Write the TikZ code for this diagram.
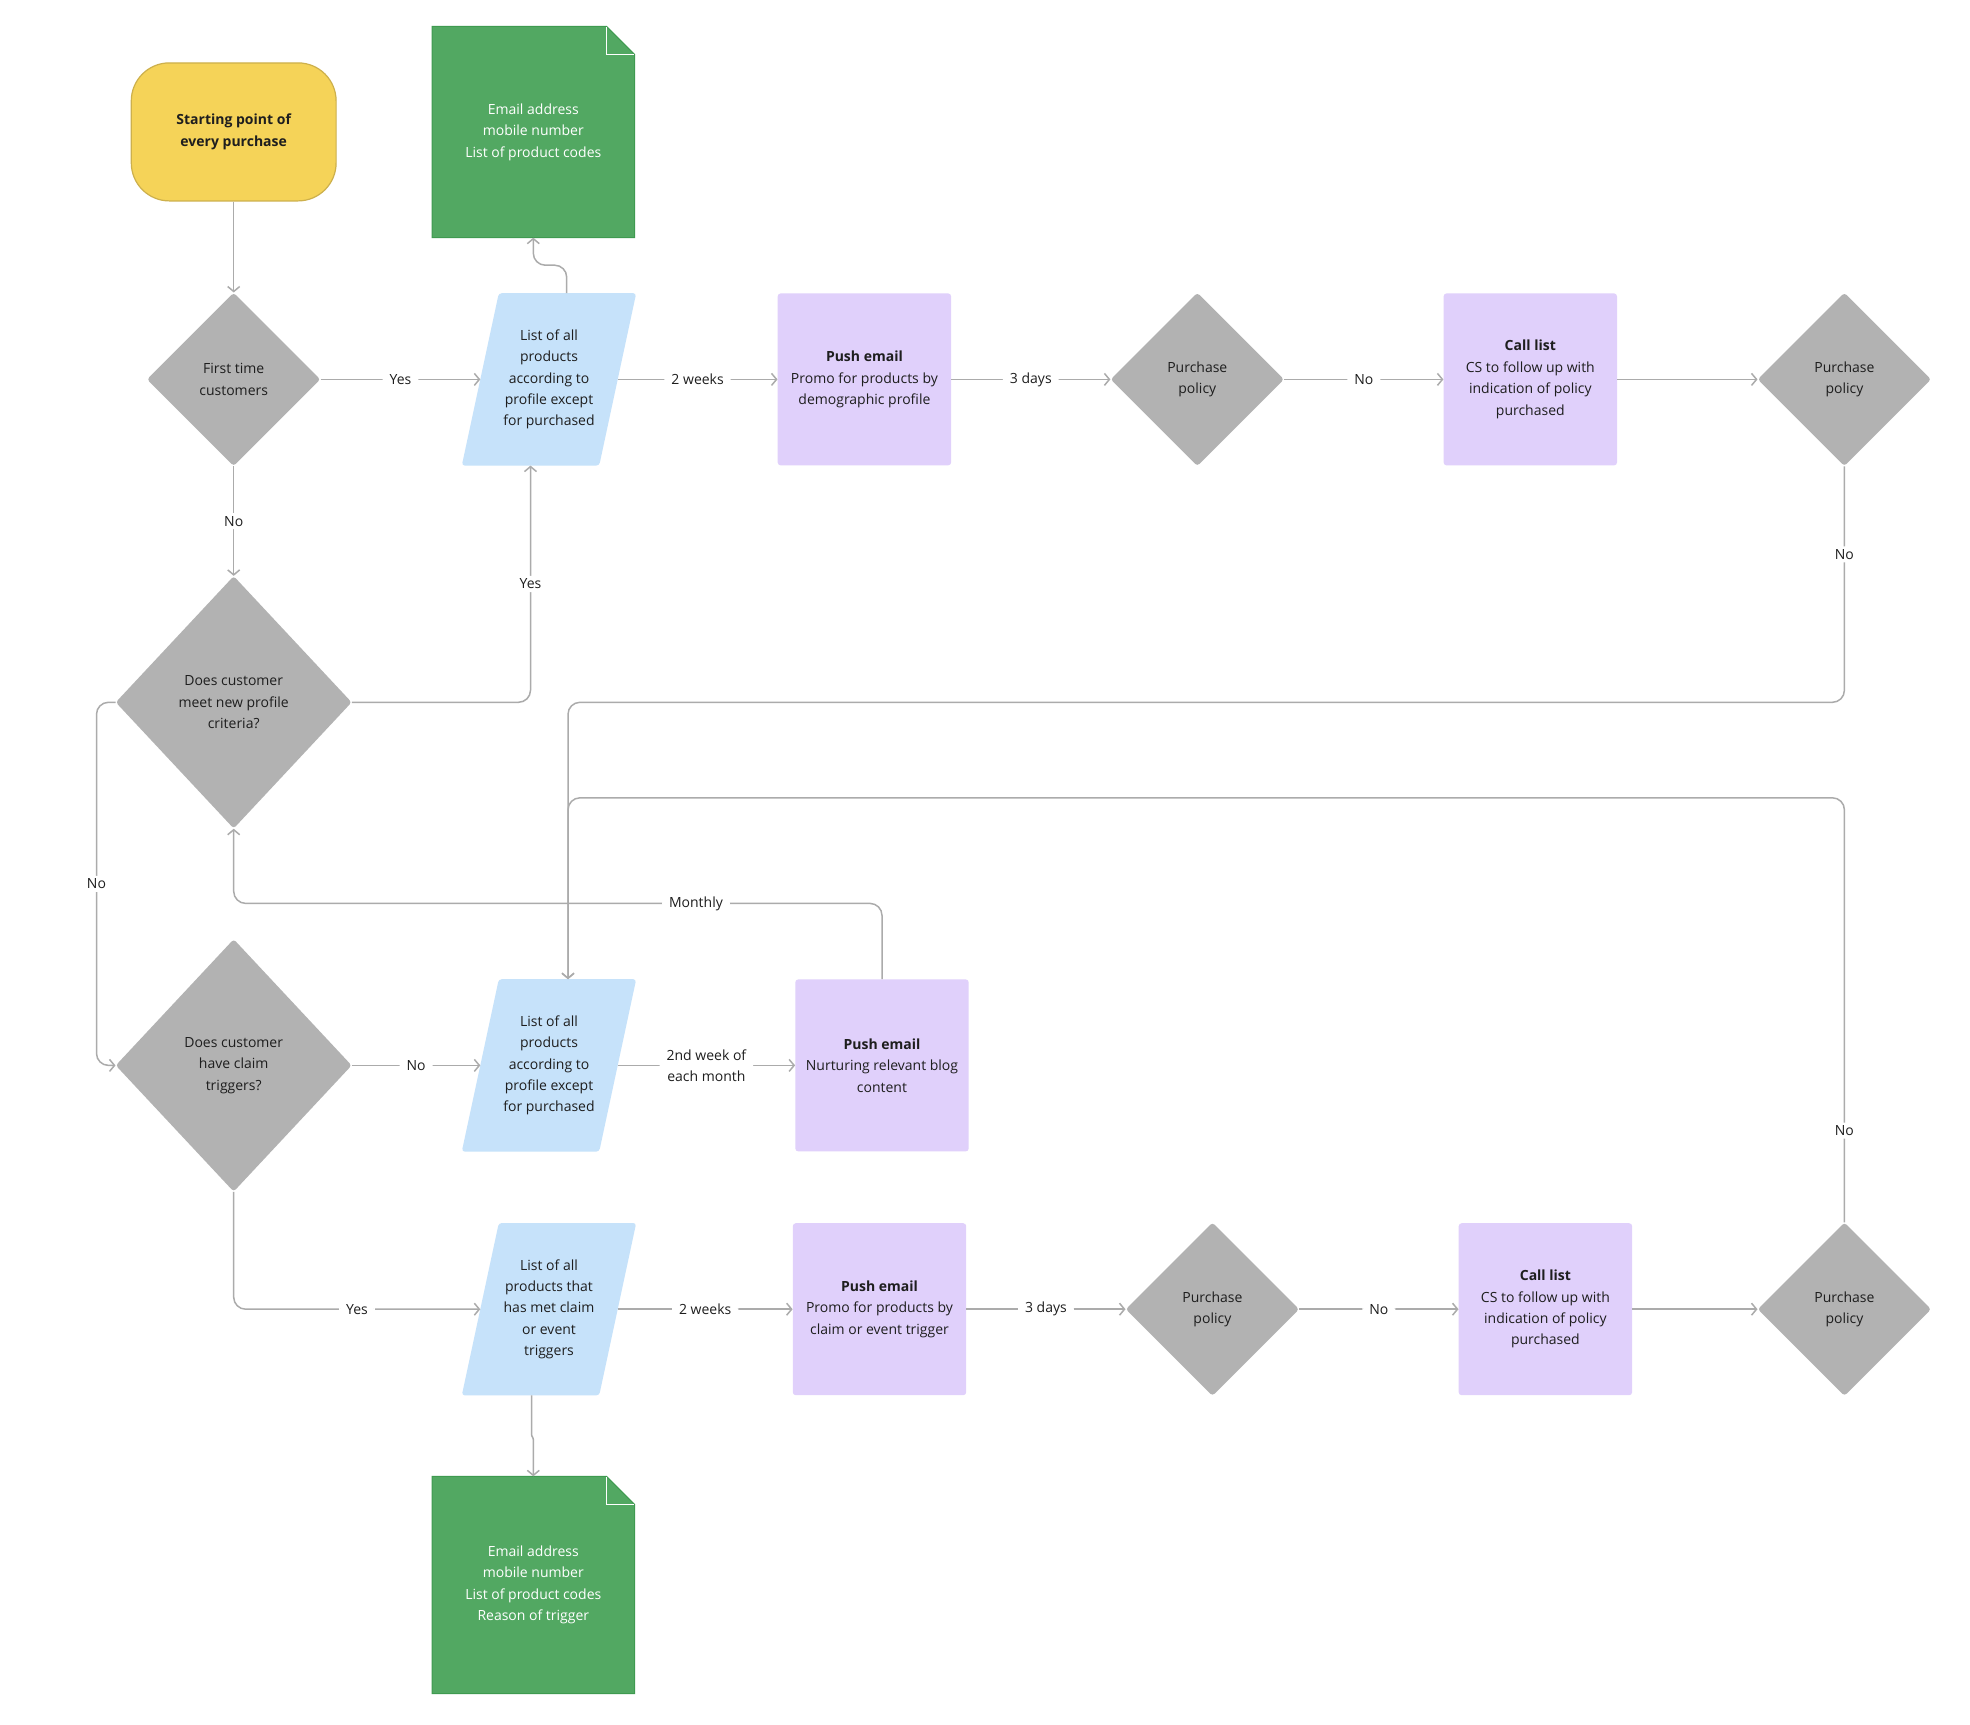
\documentclass[tikz,border=0pt]{standalone}
\usepackage{fontspec}
\setmainfont{Open Sans}
\usetikzlibrary{shapes.geometric,arrows.meta,backgrounds}
\definecolor{yel}{HTML}{F5D358}
\definecolor{yelb}{HTML}{CDB04C}
\definecolor{grn}{HTML}{52A862}
\definecolor{grnb}{HTML}{3F9A50}
\definecolor{blu}{HTML}{C6E2FA}
\definecolor{lav}{HTML}{E0D0FB}
\definecolor{gry}{HTML}{B2B2B2}
\definecolor{linec}{HTML}{ABABAB}
\definecolor{txt}{HTML}{1E1E1E}
\tikzset{
  base/.style={font=\fontsize{14}{21.4}\selectfont, text=txt, align=center, inner sep=0pt},
  dec/.style={base, diamond, fill=gry, minimum width=173.4pt, minimum height=173.4pt, rounded corners=3pt},
  bigdec/.style={dec, minimum width=236pt, minimum height=252.5pt},
  proc/.style={base, rectangle, fill=lav, minimum width=173.4pt, minimum height=172pt, rounded corners=3pt},
  parabox/.style={base, rectangle, minimum width=174pt, minimum height=172pt},
  docbox/.style={base, rectangle, text=white, minimum width=202pt},
  startbox/.style={base, rectangle, fill=yel, draw=yelb, line width=1.2pt, rounded corners=38pt,
     minimum width=204.8pt, minimum height=138pt, font=\fontsize{14}{21.4}\selectfont\bfseries},
  conn/.style={draw=linec, line width=1.5pt, rounded corners=12pt, -{Straight Barb[length=5pt,width=12pt]}},
  lbl/.style={base, fill=white, inner xsep=7pt, inner ysep=3pt},
}
\newcommand{\paraback}[1]{%
  \fill[blu, rounded corners=3pt] ([xshift=37pt]#1.north west) -- (#1.north east)
     -- ([xshift=-37pt]#1.south east) -- (#1.south west) -- cycle;}
\newcommand{\docback}[1]{%
  \fill[grn] (#1.north west) -- ([xshift=-28pt]#1.north east) -- ([yshift=-28pt]#1.north east)
     -- (#1.south east) -- (#1.south west) -- cycle;
  \draw[grnb, line width=1pt] (#1.north west) -- ([xshift=-28pt]#1.north east) -- ([yshift=-28pt]#1.north east)
     -- (#1.south east) -- (#1.south west) -- cycle;
  \draw[white, line width=1.5pt] ([xshift=-28pt,yshift=-1pt]#1.north east) -- ([xshift=-28pt,yshift=-28pt]#1.north east)
     -- ([xshift=-1pt,yshift=-28pt]#1.north east);}
\begin{document}
\begin{tikzpicture}[x=1pt,y=-1pt]
\useasboundingbox (0,0) rectangle (1970,1724);

% top row
\node[startbox] (start) at (233.7,131.9) {Starting point of\\every purchase};
\node[docbox, minimum height=211pt] (doc1) at (533.3,132) {Email address\\mobile number\\List of product codes};
\node[dec] (d1) at (233.7,379.4) {First time\\customers};
\node[parabox] (p1) at (549,379.4) {List of all\\products\\according to\\profile except\\for purchased};
\node[proc] (u1) at (864.4,379.4) {\textbf{Push email}\\Promo for products by\\demographic profile};
\node[dec] (d2) at (1197.3,379.4) {Purchase\\policy};
\node[proc] (c1) at (1530.3,379.4) {\textbf{Call list}\\CS to follow up with\\indication of policy\\purchased};
\node[dec] (d3) at (1844.4,379.4) {Purchase\\policy};

% middle
\node[bigdec] (d4) at (233.7,702.3) {Does customer\\meet new profile\\criteria?};
\node[bigdec] (d5) at (233.7,1065.4) {Does customer\\have claim\\triggers?};
\node[parabox] (p2) at (549,1065.4) {List of all\\products\\according to\\profile except\\for purchased};
\node[proc] (u2) at (882,1065.4) {\textbf{Push email}\\Nurturing relevant blog\\content};

% bottom row
\node[parabox] (p3) at (549,1309.2) {List of all\\products that\\has met claim\\or event\\triggers};
\node[proc] (u3) at (879.5,1309.2) {\textbf{Push email}\\Promo for products by\\claim or event trigger};
\node[dec] (d6) at (1212.4,1309.2) {Purchase\\policy};
\node[proc] (c2) at (1545.4,1309.2) {\textbf{Call list}\\CS to follow up with\\indication of policy\\purchased};
\node[dec] (d7) at (1844.4,1309.2) {Purchase\\policy};
\node[docbox, minimum height=217pt] (doc2) at (533.3,1585) {Email address\\mobile number\\List of product codes\\Reason of trigger};

% helper coordinates
\coordinate (j1) at ([xshift=19pt]p2.north);
\coordinate (k1) at (1844.4,797.8);
\coordinate (m1) at (233.7,903.4);

\begin{scope}[on background layer]
  \fill[white] (0,0) rectangle (1970,1724);
  \paraback{p1}\paraback{p2}\paraback{p3}
  \docback{doc1}\docback{doc2}
\end{scope}

% connectors
\draw[conn] (start) -- (d1);
\draw[conn] (d1) -- node[lbl]{Yes} ([xshift=18.5pt]p1.west);
\draw[conn] ([xshift=-18.5pt]p1.east) -- node[lbl]{2 weeks} (u1);
\draw[conn] (u1) -- node[lbl]{3 days} (d2);
\draw[conn] (d2) -- node[lbl]{No} (c1);
\draw[conn] (c1) -- (d3);
\draw[conn] ([xshift=17.7pt]p1.north) -- ++(0,-28) -| (doc1.south);
\draw[conn] (d1) -- node[lbl]{No} (d4);
\draw[conn] (d4.east) -| node[lbl, pos=0.75]{Yes} ([xshift=-18.5pt]p1.south);
\draw[conn] (d4.west) -- ++(-19,0) |- node[lbl, pos=0.25]{No} (d5.west);
\draw[conn] (d3.south) -- node[lbl, pos=0.373]{No} (d3.south |- d4.east) -- (j1 |- d4.east) -- (j1);
\draw[conn] (d7.north) -- node[lbl, pos=0.216]{No} (k1) -- (j1 |- k1) -- (j1);
\draw[conn] (u2.north) -- (u2.north |- m1) -- node[lbl, pos=0.287]{Monthly} (m1) -- (d4.south);
\draw[conn] (d5) -- node[lbl]{No} ([xshift=18.5pt]p2.west);
\draw[conn] ([xshift=-18.5pt]p2.east) -- node[lbl]{2nd week of\\each month} (u2);
\draw[conn] (d5.south) |- node[lbl, pos=0.75]{Yes} ([xshift=18.5pt]p3.west);
\draw[conn] ([xshift=-18.5pt]p3.east) -- node[lbl]{2 weeks} (u3);
\draw[conn] (u3) -- node[lbl]{3 days} (d6);
\draw[conn] (d6) -- node[lbl]{No} (c2);
\draw[conn] (c2) -- (d7);
\draw[conn, rounded corners=1pt] ([xshift=-17.5pt]p3.south) -- ++(0,40) -- ++(1.8,3) -- (doc2.north);
\end{tikzpicture}
\end{document}
